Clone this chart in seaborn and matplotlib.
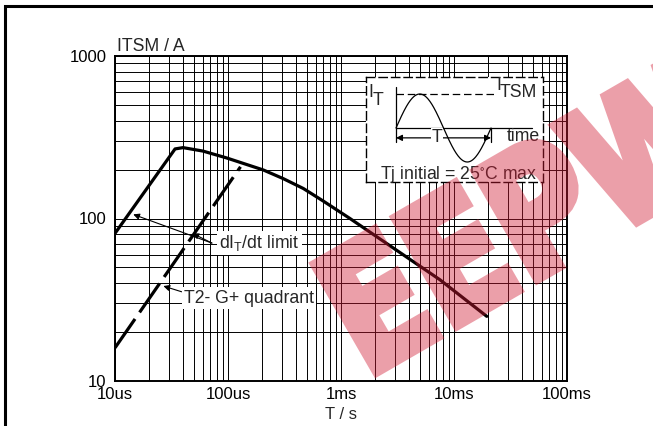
import numpy as np
import matplotlib
matplotlib.use("Agg")
import matplotlib.pyplot as plt
import matplotlib.ticker as mticker
from matplotlib.patches import Rectangle, PathPatch
from matplotlib.textpath import TextPath
from matplotlib.font_manager import FontProperties
from matplotlib.transforms import Affine2D, IdentityTransform
import pandas as pd
import seaborn as sns

# surge current vs pulse width (solid: dI/dt limit + surge limit)
t_solid = [10e-6, 34e-6, 40e-6, 60e-6, 97e-6, 146e-6, 205e-6, 308e-6, 464e-6,
           697e-6, 1.2e-3, 7.5e-3, 19.5e-3]
i_solid = [81, 268, 273, 260, 236, 215, 199, 176, 153, 128, 100, 42, 25]

# dashed: T2- G+ quadrant dI/dt limit
t_dash = [10e-6, 129e-6]
i_dash = [16, 208]

x_ticks = [1e-5, 1e-4, 1e-3, 1e-2, 1e-1]
x_labels = ["10us", "100us", "1ms", "10ms", "100ms"]
y_ticks = [10, 100, 1000]
y_labels = ["10", "100", "1000"]

sns.set_style("white")
plt.rcParams["font.family"] = ["Liberation Sans", "DejaVu Sans"]
plt.rcParams["mathtext.default"] = "regular"
FS = 12
FA = 12.7

fig = plt.figure(figsize=(6.53, 4.26), dpi=100)
ax = fig.add_axes([115 / 653, 1 - 381 / 426, 452 / 653, 325 / 426])
ax.set_xscale("log")
ax.set_yscale("log")

df_solid = pd.DataFrame({"T": t_solid, "ITSM": i_solid})
df_dash = pd.DataFrame({"T": t_dash, "ITSM": i_dash})
sns.lineplot(data=df_solid, x="T", y="ITSM", ax=ax, color="black", lw=2.3,
             sort=False, estimator=None, zorder=3)
sns.lineplot(data=df_dash, x="T", y="ITSM", ax=ax, color="black", lw=2.3,
             sort=False, estimator=None, linestyle=(0, (11, 2.5)), zorder=3)

ax.set_xlim(1e-5, 1e-1)
ax.set_ylim(10, 1000)
ax.set_xticks(x_ticks)
ax.set_xticklabels(x_labels)
ax.set_yticks(y_ticks)
ax.set_yticklabels(y_labels)
ax.xaxis.set_minor_locator(mticker.LogLocator(base=10, subs=range(2, 10)))
ax.yaxis.set_minor_locator(mticker.LogLocator(base=10, subs=range(2, 10)))
ax.xaxis.set_minor_formatter(mticker.NullFormatter())
ax.yaxis.set_minor_formatter(mticker.NullFormatter())
ax.tick_params(which="both", length=0, labelsize=FS, colors="black")
ax.tick_params(axis="x", pad=4)
ax.tick_params(axis="y", pad=6)
ax.grid(True, which="both", color="black", lw=0.7)
for s in ax.spines.values():
    s.set_color("black")
    s.set_linewidth(1.4)
ax.set_xlabel("T / s", fontsize=FS, labelpad=4)
ax.set_ylabel("")
ax.text(0.004, 1.004, "ITSM / A", transform=ax.transAxes, fontsize=FA,
        ha="left", va="bottom")

# annotations
arr = dict(arrowstyle="-|>", lw=0.8, color="black", mutation_scale=9,
           shrinkA=0, shrinkB=0)
ax.annotate("", xy=(14.5e-6, 106), xytext=(72e-6, 70.6), arrowprops=arr, zorder=4)
ax.annotate("", xy=(48.6e-6, 81), xytext=(72e-6, 70.6), arrowprops=arr, zorder=4)
ax.text(83e-6, 70.6, "dI$_T$/dt limit", fontsize=FA, ha="left", va="center",
        bbox=dict(fc="white", ec="none", pad=1.5), zorder=5)
ax.annotate("", xy=(26.8e-6, 38.4), xytext=(38.9e-6, 35.4), arrowprops=arr, zorder=4)
ax.text(40.5e-6, 32.4, "T2- G+ quadrant", fontsize=FA, ha="left", va="center",
        bbox=dict(fc="white", ec="none", pad=1.5), zorder=5)

# inset waveform sketch
ax_in = fig.add_axes([366 / 653, 1 - 182 / 426, 177 / 653, 105 / 426])
ax_in.set_xlim(-0.316, 1.547)
ax_in.set_ylim(-1.588, 1.5)
ax_in.set_xticks([])
ax_in.set_yticks([])
ax_in.set_facecolor("white")
for s in ax_in.spines.values():
    s.set_linestyle((0, (6, 3)))
    s.set_linewidth(1.0)
    s.set_color("black")
phase = np.linspace(0, 1, 200)
ax_in.plot(phase, np.sin(2 * np.pi * phase), color="black", lw=0.9)
ax_in.plot([0, 0], [1.2, -0.41], color="black", lw=0.9)
ax_in.plot([0, 1.43], [0, 0], color="black", lw=0.9)
ax_in.plot([1, 1], [0, -0.41], color="black", lw=0.9)
ax_in.plot([0, 1.05], [1, 1], color="black", lw=0.9, linestyle=(0, (6, 3)))
ax_in.annotate("", xy=(0, -0.29), xytext=(1, -0.29),
               arrowprops=dict(arrowstyle="<|-|>", lw=0.9, color="black",
                               mutation_scale=9, shrinkA=0, shrinkB=0))
ax_in.text(0.43, -0.27, "T", fontsize=FA, ha="center", va="center",
           bbox=dict(fc="white", ec="none", pad=0.5))
ax_in.text(-0.29, 0.91, "I", fontsize=FA, ha="left", va="baseline")
ax_in.text(-0.245, 0.68, "T", fontsize=FA, ha="left", va="baseline")
ax_in.text(1.055, 1.12, "I", fontsize=FA, ha="left", va="baseline")
ax_in.text(1.09, 0.91, "TSM", fontsize=FA, ha="left", va="baseline")
ax_in.text(1.165, -0.25, "time", fontsize=FA, ha="left", va="center")
ax_in.text(-0.17, -1.38, "Tj initial = 25$^{\\circ}$C max", fontsize=FA,
           ha="left", va="center")

# figure frame (top and left edges visible)
fig.add_artist(Rectangle((5 / 653, -0.5), 2, 1 - 6 / 426 + 0.5,
                         transform=fig.transFigure, fill=False,
                         ec="black", lw=2.2))


# watermark: opaque heavy glyphs, faded as one layer
def fade(img, dpi):
    img = img.copy()
    img[..., 3] *= 0.42
    return img, 0, 0


wm = TextPath((0, 0), "EEPW", size=170,
              prop=FontProperties(family="DejaVu Sans", weight="bold"))
wm_tr = Affine2D().scale(0.8, 1.0).rotate_deg(30).translate(366, 426 - 378)
wm_patch = PathPatch(wm_tr.transform_path(wm), transform=IdentityTransform(),
                     fc=(0.82, 0.1, 0.2), ec=(0.82, 0.1, 0.2), lw=7,
                     joinstyle="miter", zorder=10)
wm_patch.set_agg_filter(fade)
fig.add_artist(wm_patch)

fig.savefig("out.png", dpi=100)
